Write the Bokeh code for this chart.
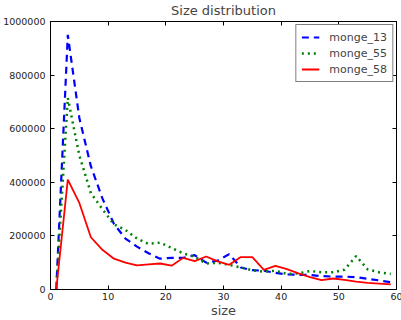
from bokeh.plotting import figure
from bokeh.models import (LinearAxis, FixedTicker, BasicTickFormatter, Legend, LegendItem,
                          Range1d, ColumnDataSource, CustomLabelingPolicy)
from bokeh.embed import file_html
from bokeh.resources import INLINE

sizes = list(range(1, 60, 2))

monge_13 = [0, 950000, 640000, 460000, 340000, 245000, 190000, 160000, 135000, 115000,
            118000, 118000, 128000, 100000, 108000, 132000, 82000, 72000, 70000, 62000,
            56000, 55000, 54000, 50000, 48000, 48000, 46000, 40000, 34000, 27000]
monge_55 = [0, 715000, 500000, 360000, 300000, 243000, 222000, 190000, 170000, 175000,
            155000, 135000, 122000, 97000, 100000, 92000, 82000, 72000, 66000, 70000,
            58000, 60000, 69000, 64000, 64000, 74000, 125000, 75000, 64000, 58000]
monge_58 = [0, 410000, 323000, 195000, 148000, 115000, 100000, 90000, 94000, 97000,
            89000, 118000, 106000, 123000, 105000, 92000, 121000, 121000, 73000, 88000,
            76000, 60000, 46000, 35000, 41000, 36000, 29000, 25000, 22000, 19000]

x_ticks = [0, 10, 20, 30, 40, 50, 60]
y_ticks = [0, 200000, 400000, 600000, 800000, 1000000]

FONT = "DejaVu Sans"

p = figure(frame_width=346, frame_height=268, output_backend="svg", toolbar_location=None,
           x_range=Range1d(0, 60), y_range=Range1d(0, 1000000),
           title="Size distribution",
           min_border_left=43, min_border_right=3, min_border_top=0, min_border_bottom=0)
p.background_fill_color = "white"
p.border_fill_color = "white"
p.outline_line_color = "black"
p.outline_line_width = 1
p.xgrid.visible = False
p.ygrid.visible = False

p.title.align = "center"
p.title.text_font = FONT
p.title.text_font_size = "13px"
p.title.text_font_style = "normal"
p.title.text_line_height = 1.0
p.title.standoff = 0
p.title.offset = 0

src = ColumnDataSource(dict(x=sizes, a=monge_13, b=monge_55, c=monge_58))
r1 = p.line("x", "a", source=src, line_color="#0000ff", line_width=2.2, line_dash="7 5")
r2 = p.line("x", "b", source=src, line_color="#008000", line_width=2.5, line_dash="2 4")
r3 = p.line("x", "c", source=src, line_color="#ff0000", line_width=1.8)

hide_labels = CustomLabelingPolicy(code="""
for (let i = 0; i < indices.size; i++) { indices.unset(i) }
return indices
""")

def style_axis(ax, labels=True, standoff=3):
    ax.major_tick_in = 4
    ax.major_tick_out = 0
    ax.minor_tick_line_color = None
    ax.axis_line_color = "black"
    ax.major_tick_line_color = "black"
    ax.major_label_text_font = FONT
    ax.major_label_text_color = "#222222"
    if labels:
        ax.major_label_text_font_size = "9.5px"
        ax.major_label_text_line_height = 1.0
        ax.major_label_standoff = standoff
    else:
        ax.major_label_text_font_size = "1px"
        ax.major_label_policy = hide_labels
        ax.major_label_standoff = 0

xa = p.xaxis[0]
xa.ticker = FixedTicker(ticks=x_ticks)
style_axis(xa, standoff=3)
xa.axis_label = "size"
xa.axis_label_text_font = FONT
xa.axis_label_text_font_size = "13px"
xa.axis_label_text_font_style = "normal"
xa.axis_label_text_line_height = 1.0
xa.axis_label_standoff = 0

ya = p.yaxis[0]
ya.ticker = FixedTicker(ticks=y_ticks)
ya.formatter = BasicTickFormatter(use_scientific=False)
style_axis(ya, standoff=5)

top = LinearAxis(ticker=FixedTicker(ticks=x_ticks))
style_axis(top, labels=False)
p.add_layout(top, "above")
right = LinearAxis(ticker=FixedTicker(ticks=y_ticks))
style_axis(right, labels=False)
p.add_layout(right, "right")

legend = Legend(items=[LegendItem(label="monge_13", renderers=[r1]),
                       LegendItem(label="monge_55", renderers=[r2]),
                       LegendItem(label="monge_58", renderers=[r3])],
                location="top_right")
legend.margin = 3
legend.padding = 5
legend.spacing = 2
legend.label_height = 14
legend.glyph_height = 14
legend.glyph_width = 18
legend.label_standoff = 10
legend.label_text_font = FONT
legend.label_text_font_size = "11px"
legend.border_line_color = "black"
legend.border_line_width = 1
legend.background_fill_color = "white"
p.add_layout(legend, "center")

open("out.html", "w").write(file_html(p, INLINE))
